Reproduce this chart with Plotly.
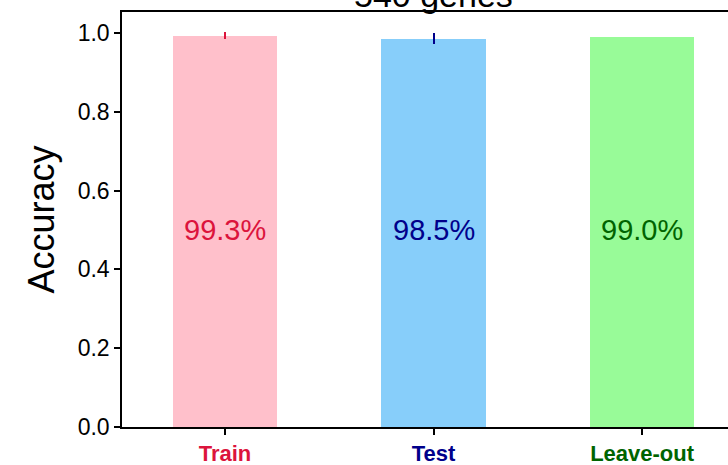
import plotly.graph_objects as go

# Accuracy per data split
splits = ["Train", "Test", "Leave-out"]
accuracy = [0.993, 0.985, 0.990]
accuracy_err = [0.008, 0.014, 0.0]
bar_colors = ["#FFC0CB", "#87CEFA", "#98FB98"]
text_colors = ["#DC143C", "#00008B", "#006400"]
title_text = "540 genes"
y_ticks = [0.0, 0.2, 0.4, 0.6, 0.8, 1.0]

FONT = "Liberation Sans, Arial, sans-serif"

xpos = list(range(len(splits)))

fig = go.Figure()
for i, (name, acc, err, bc, tc) in enumerate(
    zip(splits, accuracy, accuracy_err, bar_colors, text_colors)
):
    fig.add_trace(
        go.Bar(
            x=[i],
            y=[acc],
            width=0.5,
            marker=dict(color=bc, line=dict(width=0)),
            error_y=dict(type="data", array=[err], visible=err > 0,
                         color=tc, thickness=2, width=0),
            showlegend=False,
            name=name,
        )
    )
    fig.add_annotation(
        x=i, y=0.5, xref="x", yref="y",
        text=f"{acc * 100:.1f}%",
        showarrow=False,
        font=dict(family=FONT, size=29, color=tc),
    )

# Title sits above the axes box
fig.add_annotation(
    x=1, y=1.0, xref="x", yref="paper",
    yanchor="bottom", yshift=-4,
    text=title_text, showarrow=False,
    font=dict(family=FONT, size=34, color="black"),
)

fig.update_layout(
    width=728,
    height=465,
    margin=dict(l=122, r=0, t=12, b=38, autoexpand=False),
    paper_bgcolor="white",
    plot_bgcolor="white",
    bargap=0,
    font=dict(family=FONT, color="black"),
)

fig.update_xaxes(
    range=[-0.494, 2.412],
    tickmode="array",
    tickvals=xpos,
    ticktext=[f"<b><span style='color:{c}'>{s}</span></b>" for s, c in zip(splits, text_colors)],
    tickfont=dict(family=FONT, size=22),
    ticks="outside", ticklen=6, tickwidth=1.5, tickcolor="black",
    showline=True, linecolor="black", linewidth=1.5, mirror=True,
    showgrid=False, zeroline=False, automargin=False,
)
fig.update_yaxes(
    range=[0, 1.053],
    tickmode="array",
    tickvals=y_ticks,
    ticktext=[f"{v:.1f}" for v in y_ticks],
    tickfont=dict(family=FONT, size=23),
    ticks="outside", ticklen=6, tickwidth=1.5, tickcolor="black",
    showline=True, linecolor="black", linewidth=1.5,
    showgrid=False, zeroline=False, automargin=False,
    title=dict(text="Accuracy", font=dict(family=FONT, size=36), standoff=12),
)

fig.write_html("out.html")
